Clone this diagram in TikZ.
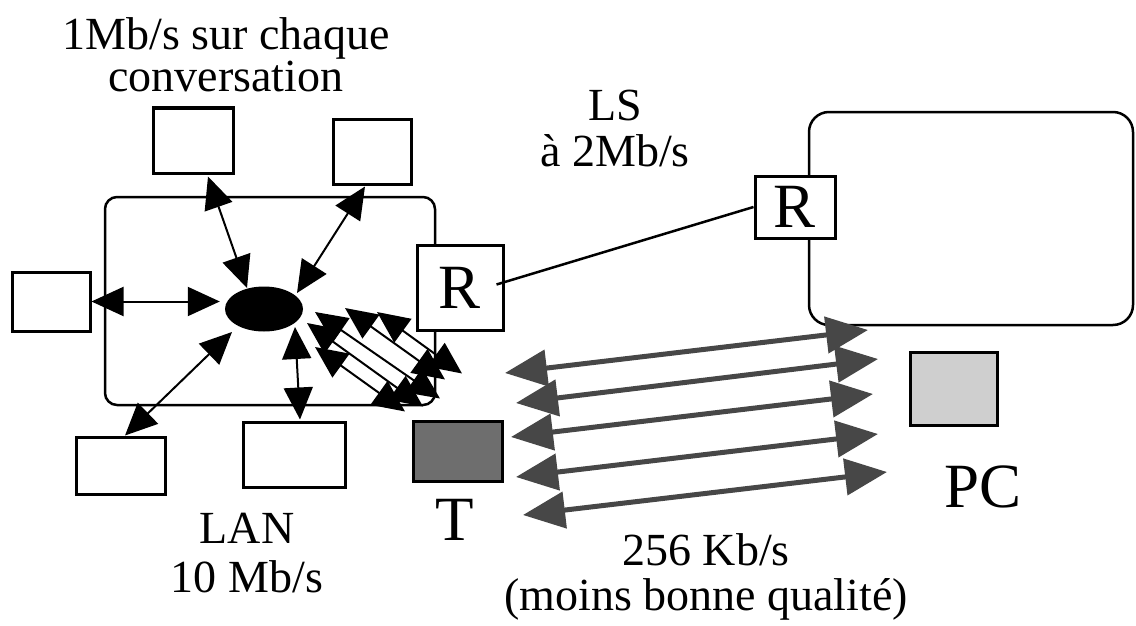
\documentclass[tikz,border=0pt]{standalone}
\usepackage{fontspec}
\setmainfont{Liberation Serif}
\usetikzlibrary{arrows.meta,shapes.geometric,calc}
\definecolor{agray}{HTML}{474747}
\definecolor{tgray}{HTML}{6E6E6E}
\definecolor{pcgray}{HTML}{CFCFCF}
\newcommand\twolines[2]{\begin{tabular}[t]{@{}c@{}}#1\\#2\end{tabular}}
\tikzset{
  sbox/.style={draw, line width=3pt, minimum width=#1, inner sep=0pt},
  lbl/.style={anchor=base, inner sep=0pt, font=\fontsize{46}{#1}\selectfont},
  big/.style={inner sep=0pt, font=\fontsize{63}{63}\selectfont},
  barrow/.style={line width=2pt, {Triangle[length=32pt,width=29pt]}-{Triangle[length=32pt,width=29pt]}},
  garrow/.style={line width=5pt, draw=agray, {Triangle[length=42pt,width=36pt]}-{Triangle[length=42pt,width=36pt]}, agray},
  zone/.style={draw, line width=2.5pt, rounded corners=#1}
}
\begin{document}
\begin{tikzpicture}[x=1pt,y=-1pt]
\useasboundingbox (0,0) rectangle (1136,626);
% zones
\draw[zone=12pt] (105,197) rectangle (435,405);
\draw[zone=20pt] (809,112) rectangle (1133,325);
% boxes
\node[sbox=80pt, minimum height=65pt] (tl) at (193,140.5) {};
\node[sbox=78pt, minimum height=65pt] (tr) at (372,151.5) {};
\node[sbox=78pt, minimum height=59pt] (lb) at (51,301.5) {};
\node[sbox=89pt, minimum height=57pt] (bl) at (120.5,465.5) {};
\node[sbox=102pt, minimum height=65pt] (bm) at (294,454.5) {};
\node[sbox=86pt, minimum height=85pt, fill=white, big] (rl) at (460,287.5) {R};
\node[sbox=80pt, minimum height=62pt, fill=white, big] (rr) at (795,207) {R};
\node[sbox=89pt, minimum height=60pt, fill=tgray] (t) at (457.5,451) {};
\node[sbox=87pt, minimum height=73pt, fill=pcgray] (pc) at (953.5,388.5) {};
\node[ellipse, fill=black, minimum width=78pt, minimum height=45pt, inner sep=0pt] (e) at (264,309) {};
% link
\draw[line width=2.5pt] ($(rl.east)+(-8,-3)$) -- (rr.west);
% black arrows
\draw[barrow] ($(tl.south)+(15,2)$) -- ($(e.center)+(-17,-21)$);
\draw[barrow] ($(tr.south)+(-7,1)$) -- ($(e.center)+(33,-16)$);
\draw[barrow] (lb.east) -- ($(lb.east -| e.west)+(-5,0)$);
\draw[barrow] ($(bl.north)+(4.5,0)$) -- ($(e.center)+(-32,23)$);
\draw[barrow] ($(bm.north)+(6,-1)$) -- ($(e.center)+(31,18)$);
% corner arrows
\draw[barrow] ($(e.center)+(113,3)$) -- ($(rl.south)+(2,42)$);
\draw[barrow] ($(e.center)+(81,-1)$) -- ($(rl.south)+(-15,48)$);
\draw[barrow] ($(e.center)+(51,3)$) -- ($(rl.south)+(-20,67)$);
\draw[barrow] ($(e.center)+(43,14)$) -- ($(rl.south)+(-37,75)$);
\draw[barrow] ($(e.center)+(51,38)$) -- ($(rl.south)+(-55,80)$);
% gray arrows
\coordinate (g1a) at (505,373); \coordinate (g1b) at (868,330);
\coordinate (g2a) at (516,403); \coordinate (g2b) at (878,359);
\coordinate (g3a) at (511,437); \coordinate (g3b) at (873,394);
\coordinate (g4a) at (516,477); \coordinate (g4b) at (878,434);
\coordinate (g5a) at (523,515); \coordinate (g5b) at (887,472);
\draw[garrow] (g1a) -- (g1b);
\draw[garrow] (g2a) -- (g2b);
\draw[garrow] (g3a) -- (g3b);
\draw[garrow] (g4a) -- (g4b);
\draw[garrow] (g5a) -- (g5b);
% labels
\node[lbl=38] (conv) at (226,50) {\twolines{1Mb/s sur chaque}{conversation}};
\node[lbl=44] (ls) at (615,121) {\twolines{LS}{à 2Mb/s}};
\node[lbl=49] (lan) at (247,543) {\twolines{LAN}{10 Mb/s}};
\node[lbl=45] (kb) at (706,565) {\twolines{256 Kb/s}{(moins bonne qualité)}};
\node[big, anchor=base] (tlab) at (455,540) {T};
\node[big, anchor=base] (pcl) at (983,507) {PC};
\end{tikzpicture}
\end{document}
